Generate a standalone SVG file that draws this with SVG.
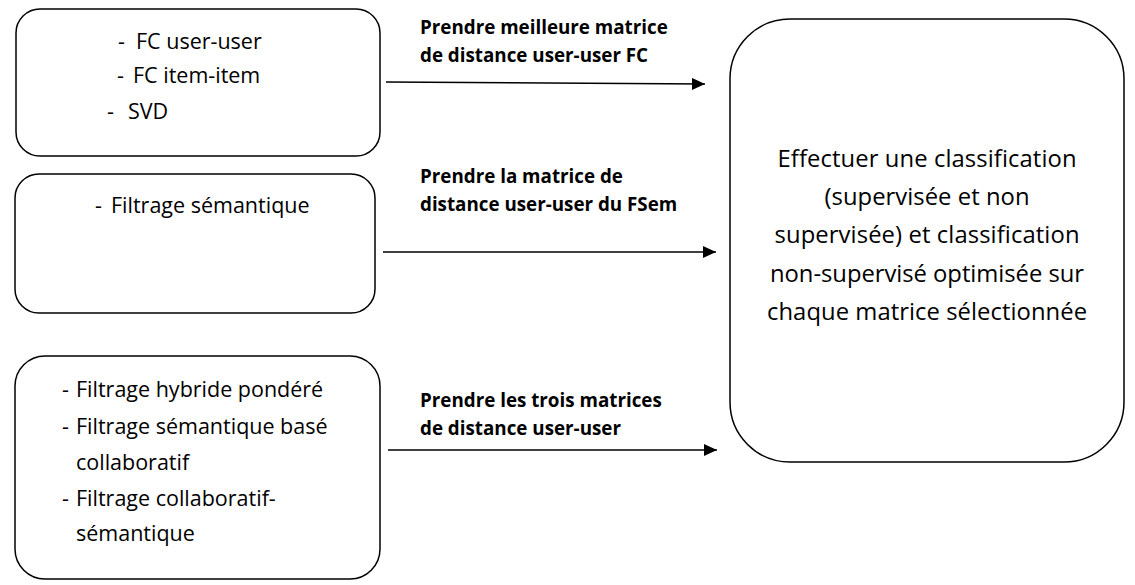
<svg xmlns="http://www.w3.org/2000/svg" width="1135" height="585" viewBox="0 0 1135 585">
<style>
text{font-family:"Open Sans","Noto Sans","Liberation Sans",sans-serif;font-variant-ligatures:none;fill:#000}
.box{fill:#fff;stroke:#000;stroke-width:1.5}
.t{font-size:21.5px}
.big{font-size:23.8px;text-anchor:middle}
.lbl{font-size:18.8px;font-weight:bold}
.conn{stroke:#000;stroke-width:1.4;fill:none;marker-end:url(#arr)}
</style>
<defs>
<marker id="arr" markerUnits="userSpaceOnUse" markerWidth="14" markerHeight="12" refX="13" refY="6" orient="auto">
<path d="M0,0 L13,6 L0,12 Z" fill="#000"/>
</marker>
</defs>
<rect width="1135" height="585" fill="#fff"/>
<g id="node-fc">
<rect class="box" x="16" y="9" width="364" height="147" rx="24"/>
<text class="t" y="49"><tspan x="118">-</tspan><tspan x="136">FC user-user</tspan></text>
<text class="t" y="83"><tspan x="117">-</tspan><tspan x="133">FC item-item</tspan></text>
<text class="t" y="119"><tspan x="107">-</tspan><tspan x="128">SVD</tspan></text>
</g>
<g id="node-fsem">
<rect class="box" x="15" y="174" width="360" height="139" rx="24"/>
<text class="t" y="213"><tspan x="95">-</tspan><tspan x="111">Filtrage sémantique</tspan></text>
</g>
<g id="node-hybrid">
<rect class="box" x="15" y="356" width="365" height="223" rx="30"/>
<text class="t" y="397"><tspan x="62">-</tspan><tspan x="76">Filtrage hybride pondéré</tspan></text>
<text class="t" y="434"><tspan x="62">-</tspan><tspan x="76">Filtrage sémantique basé</tspan></text>
<text class="t" y="470" x="76">collaboratif</text>
<text class="t" y="506"><tspan x="62">-</tspan><tspan x="76">Filtrage collaboratif-</tspan></text>
<text class="t" y="541" x="76">sémantique</text>
</g>
<g id="node-classif">
<rect class="box" x="730" y="19" width="394" height="443" rx="60"/>
<text class="big" x="927" y="167" textLength="299" lengthAdjust="spacing">Effectuer une classification</text>
<text class="big" x="927" y="205" textLength="205" lengthAdjust="spacing">(supervisée et non</text>
<text class="big" x="927" y="243" textLength="305" lengthAdjust="spacing">supervisée) et classification</text>
<text class="big" x="927" y="282" textLength="314" lengthAdjust="spacing">non-supervisé optimisée sur</text>
<text class="big" x="927" y="320" textLength="320" lengthAdjust="spacing">chaque matrice sélectionnée</text>
</g>
<g id="connectors">
<line class="conn" x1="386" y1="82" x2="705" y2="84"/>
<line class="conn" x1="383" y1="252" x2="716" y2="252"/>
<line class="conn" x1="388" y1="450" x2="717" y2="450"/>
<text class="lbl" x="420" y="34">Prendre meilleure matrice</text>
<text class="lbl" x="420" y="62">de distance user-user FC</text>
<text class="lbl" x="420" y="183">Prendre la matrice de</text>
<text class="lbl" x="420" y="211">distance user-user du FSem</text>
<text class="lbl" x="420" y="407">Prendre les trois matrices</text>
<text class="lbl" x="420" y="435">de distance user-user</text>
</g>
</svg>
